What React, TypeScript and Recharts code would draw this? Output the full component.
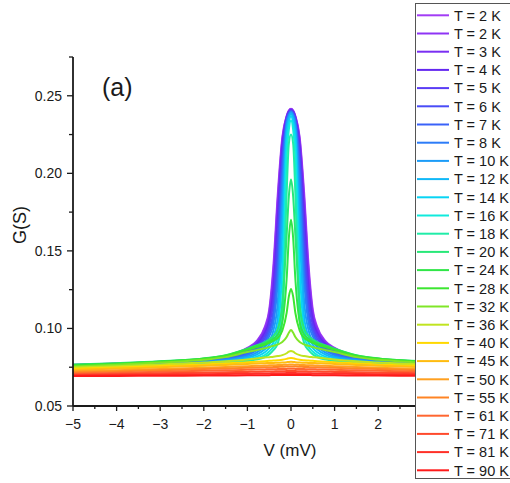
import { LineChart, Line, XAxis, YAxis } from 'recharts';

// bias voltage grid (mV), shared by every curve
const VOLTS = [-5, -4, -3, -2, -1.5, -1, -0.8, -0.6, -0.5, -0.4, -0.3, -0.2, -0.1, -0.05, 0, 0.05, 0.1, 0.2, 0.3, 0.4, 0.5, 0.6, 0.8, 1, 1.5, 2, 3, 4, 5];

// conductance G (S) per temperature
const G_2K_A = [0.0766, 0.0774, 0.0785, 0.0803, 0.0822, 0.0875, 0.0915, 0.101, 0.112, 0.142, 0.188, 0.223, 0.237, 0.2405, 0.2416, 0.2405, 0.237, 0.223, 0.188, 0.142, 0.112, 0.101, 0.0915, 0.0875, 0.0822, 0.0803, 0.0785, 0.0774, 0.0766];
const G_2K_B = [0.0765, 0.0773, 0.0784, 0.0802, 0.082, 0.0871, 0.091, 0.1, 0.11, 0.138, 0.184, 0.2213, 0.2367, 0.2402, 0.2414, 0.2402, 0.2367, 0.2213, 0.184, 0.138, 0.11, 0.1, 0.091, 0.0871, 0.082, 0.0802, 0.0784, 0.0773, 0.0765];
const G_3K = [0.0763, 0.0772, 0.0782, 0.08, 0.0818, 0.0866, 0.0902, 0.0985, 0.1074, 0.1318, 0.1774, 0.2185, 0.236, 0.2398, 0.241, 0.2398, 0.236, 0.2185, 0.1774, 0.1318, 0.1074, 0.0985, 0.0902, 0.0866, 0.0818, 0.08, 0.0782, 0.0772, 0.0763];
const G_4K = [0.0762, 0.077, 0.0781, 0.0799, 0.0815, 0.086, 0.0893, 0.0969, 0.1048, 0.1253, 0.171, 0.2155, 0.2355, 0.2395, 0.2408, 0.2395, 0.2355, 0.2155, 0.171, 0.1253, 0.1048, 0.0969, 0.0893, 0.086, 0.0815, 0.0799, 0.0781, 0.077, 0.0762];
const G_5K = [0.0762, 0.0768, 0.0779, 0.0797, 0.0812, 0.0853, 0.0886, 0.0953, 0.1022, 0.1195, 0.1636, 0.2125, 0.2348, 0.2392, 0.2405, 0.2392, 0.2348, 0.2125, 0.1636, 0.1195, 0.1022, 0.0953, 0.0886, 0.0853, 0.0812, 0.0797, 0.0779, 0.0768, 0.0762];
const G_6K = [0.0762, 0.0766, 0.0777, 0.0794, 0.0808, 0.0845, 0.0875, 0.0935, 0.0996, 0.112, 0.1535, 0.208, 0.234, 0.2388, 0.2403, 0.2388, 0.234, 0.208, 0.1535, 0.112, 0.0996, 0.0935, 0.0875, 0.0845, 0.0808, 0.0794, 0.0777, 0.0766, 0.0762];
const G_7K = [0.0762, 0.0764, 0.0774, 0.0791, 0.0803, 0.0838, 0.0867, 0.0915, 0.0973, 0.108, 0.142, 0.2013, 0.2337, 0.2382, 0.24, 0.2382, 0.2337, 0.2013, 0.142, 0.108, 0.0973, 0.0915, 0.0867, 0.0838, 0.0803, 0.0791, 0.0774, 0.0764, 0.0762];
const G_8K = [0.0762, 0.0762, 0.0771, 0.0788, 0.0801, 0.0829, 0.0857, 0.0902, 0.0949, 0.1039, 0.1321, 0.1936, 0.2327, 0.2376, 0.2397, 0.2376, 0.2327, 0.1936, 0.1321, 0.1039, 0.0949, 0.0902, 0.0857, 0.0829, 0.0801, 0.0788, 0.0771, 0.0762, 0.0762];
const G_10K = [0.0762, 0.0762, 0.0768, 0.0783, 0.0796, 0.0819, 0.0843, 0.0884, 0.0917, 0.0991, 0.1182, 0.1802, 0.2304, 0.2366, 0.2392, 0.2366, 0.2304, 0.1802, 0.1182, 0.0991, 0.0917, 0.0884, 0.0843, 0.0819, 0.0796, 0.0783, 0.0768, 0.0762, 0.0762];
const G_12K = [0.0762, 0.0762, 0.0763, 0.0779, 0.0791, 0.0811, 0.0829, 0.0866, 0.0895, 0.0949, 0.1077, 0.1618, 0.2268, 0.235, 0.2385, 0.235, 0.2268, 0.1618, 0.1077, 0.0949, 0.0895, 0.0866, 0.0829, 0.0811, 0.0791, 0.0779, 0.0763, 0.0762, 0.0762];
const G_14K = [0.0762, 0.0762, 0.0762, 0.0773, 0.0784, 0.0802, 0.0817, 0.0847, 0.0873, 0.0911, 0.1003, 0.1393, 0.2218, 0.2325, 0.237, 0.2325, 0.2218, 0.1393, 0.1003, 0.0911, 0.0873, 0.0847, 0.0817, 0.0802, 0.0784, 0.0773, 0.0762, 0.0762, 0.0762];
const G_16K = [0.0762, 0.0762, 0.0762, 0.0768, 0.0779, 0.0796, 0.0807, 0.0829, 0.0851, 0.0884, 0.0949, 0.1182, 0.2116, 0.228, 0.234, 0.228, 0.2116, 0.1182, 0.0949, 0.0884, 0.0851, 0.0829, 0.0807, 0.0796, 0.0779, 0.0768, 0.0762, 0.0762, 0.0762];
const G_18K = [0.0762, 0.0762, 0.0762, 0.0763, 0.0772, 0.0789, 0.0799, 0.0816, 0.0833, 0.0861, 0.0908, 0.1054, 0.187, 0.219, 0.225, 0.219, 0.187, 0.1054, 0.0908, 0.0861, 0.0833, 0.0816, 0.0799, 0.0789, 0.0772, 0.0763, 0.0762, 0.0762, 0.0762];
const G_20K = [0.0767, 0.0776, 0.0788, 0.0807, 0.0828, 0.087, 0.089, 0.0912, 0.0928, 0.0952, 0.1, 0.115, 0.16, 0.185, 0.196, 0.185, 0.16, 0.115, 0.1, 0.0952, 0.0928, 0.0912, 0.089, 0.087, 0.0828, 0.0807, 0.0788, 0.0776, 0.0767];
const G_24K = [0.0764, 0.0774, 0.0787, 0.0806, 0.0826, 0.0866, 0.0885, 0.0903, 0.0916, 0.0933, 0.0962, 0.104, 0.132, 0.158, 0.17, 0.158, 0.132, 0.104, 0.0962, 0.0933, 0.0916, 0.0903, 0.0885, 0.0866, 0.0826, 0.0806, 0.0787, 0.0774, 0.0764];
const G_28K = [0.0759, 0.0771, 0.0785, 0.0805, 0.0823, 0.0862, 0.0878, 0.0895, 0.0907, 0.0921, 0.094, 0.0985, 0.11, 0.1205, 0.1255, 0.1205, 0.11, 0.0985, 0.094, 0.0921, 0.0907, 0.0895, 0.0878, 0.0862, 0.0823, 0.0805, 0.0785, 0.0771, 0.0759];
const G_32K = [0.0754, 0.0766, 0.078, 0.0798, 0.0815, 0.0848, 0.086, 0.0872, 0.088, 0.0888, 0.0897, 0.0912, 0.0945, 0.0972, 0.099, 0.0972, 0.0945, 0.0912, 0.0897, 0.0888, 0.088, 0.0872, 0.086, 0.0848, 0.0815, 0.0798, 0.078, 0.0766, 0.0754];
const G_36K = [0.0748, 0.0757, 0.0768, 0.078, 0.0788, 0.08, 0.0806, 0.0812, 0.0815, 0.0818, 0.0822, 0.0828, 0.084, 0.085, 0.0855, 0.085, 0.084, 0.0828, 0.0822, 0.0818, 0.0815, 0.0812, 0.0806, 0.08, 0.0788, 0.078, 0.0768, 0.0757, 0.0748];
const G_40K = [0.074, 0.0749, 0.0758, 0.0768, 0.0775, 0.0782, 0.0786, 0.0789, 0.0791, 0.0793, 0.0795, 0.0798, 0.0804, 0.0808, 0.081, 0.0808, 0.0804, 0.0798, 0.0795, 0.0793, 0.0791, 0.0789, 0.0786, 0.0782, 0.0775, 0.0768, 0.0758, 0.0749, 0.074];
const G_45K = [0.0732, 0.0741, 0.075, 0.0759, 0.0765, 0.0771, 0.0774, 0.0776, 0.0777, 0.0778, 0.0779, 0.078, 0.0782, 0.0784, 0.0785, 0.0784, 0.0782, 0.078, 0.0779, 0.0778, 0.0777, 0.0776, 0.0774, 0.0771, 0.0765, 0.0759, 0.075, 0.0741, 0.0732];
const G_50K = [0.0724, 0.0731, 0.0739, 0.0747, 0.0752, 0.0757, 0.0759, 0.0761, 0.0762, 0.0763, 0.0764, 0.0765, 0.0766, 0.0767, 0.0768, 0.0767, 0.0766, 0.0765, 0.0764, 0.0763, 0.0762, 0.0761, 0.0759, 0.0757, 0.0752, 0.0747, 0.0739, 0.0731, 0.0724];
const G_55K = [0.0716, 0.0723, 0.0731, 0.0738, 0.0742, 0.0746, 0.0748, 0.075, 0.075, 0.0751, 0.0752, 0.0753, 0.0754, 0.0755, 0.0755, 0.0755, 0.0754, 0.0753, 0.0752, 0.0751, 0.075, 0.075, 0.0748, 0.0746, 0.0742, 0.0738, 0.0731, 0.0723, 0.0716];
const G_61K = [0.0708, 0.0714, 0.0721, 0.0727, 0.073, 0.0733, 0.0735, 0.0736, 0.0737, 0.0737, 0.0738, 0.0739, 0.0739, 0.074, 0.074, 0.074, 0.0739, 0.0739, 0.0738, 0.0737, 0.0737, 0.0736, 0.0735, 0.0733, 0.073, 0.0727, 0.0721, 0.0714, 0.0708];
const G_71K = [0.0702, 0.0706, 0.0711, 0.0715, 0.0718, 0.072, 0.0721, 0.0722, 0.0723, 0.0723, 0.0724, 0.0724, 0.0725, 0.0725, 0.0725, 0.0725, 0.0725, 0.0724, 0.0724, 0.0723, 0.0723, 0.0722, 0.0721, 0.072, 0.0718, 0.0715, 0.0711, 0.0706, 0.0702];
const G_81K = [0.0697, 0.07, 0.0702, 0.0705, 0.0707, 0.0708, 0.0709, 0.071, 0.071, 0.0711, 0.0711, 0.0711, 0.0712, 0.0712, 0.0712, 0.0712, 0.0712, 0.0711, 0.0711, 0.0711, 0.071, 0.071, 0.0709, 0.0708, 0.0707, 0.0705, 0.0702, 0.07, 0.0697];
const G_90K = [0.0693, 0.0694, 0.0695, 0.0696, 0.0697, 0.0698, 0.0699, 0.0699, 0.0699, 0.07, 0.07, 0.07, 0.07, 0.07, 0.07, 0.07, 0.07, 0.07, 0.07, 0.07, 0.0699, 0.0699, 0.0699, 0.0698, 0.0697, 0.0696, 0.0695, 0.0694, 0.0693];

const LABELS = ['T = 2 K', 'T = 2 K', 'T = 3 K', 'T = 4 K', 'T = 5 K', 'T = 6 K', 'T = 7 K', 'T = 8 K', 'T = 10 K', 'T = 12 K', 'T = 14 K', 'T = 16 K', 'T = 18 K', 'T = 20 K', 'T = 24 K', 'T = 28 K', 'T = 32 K', 'T = 36 K', 'T = 40 K', 'T = 45 K', 'T = 50 K', 'T = 55 K', 'T = 61 K', 'T = 71 K', 'T = 81 K', 'T = 90 K'];

const COLORS = [
  '#a23cf5', '#8f34f5', '#7a2ff2', '#6428f0', '#5a3cf5', '#4a4cf7', '#3a62f8', '#2c7cf8',
  '#1c9cf8', '#10b8f8', '#08d4f4', '#10eadc', '#20eca8', '#28e878', '#30e648', '#3ce630',
  '#80e628', '#c0e420', '#ffd800', '#ffbc10', '#ffa020', '#ff8424', '#ff6630', '#ff4a2c',
  '#ff3028', '#ff1a1a',
];

const CURVES = [G_2K_A, G_2K_B, G_3K, G_4K, G_5K, G_6K, G_7K, G_8K, G_10K, G_12K, G_14K, G_16K, G_18K, G_20K, G_24K, G_28K, G_32K, G_36K, G_40K, G_45K, G_50K, G_55K, G_61K, G_71K, G_81K, G_90K];

// 3, 4 and 5 sit under the legend box, so they carry no label
const X_LABELED = [-5, -4, -3, -2, -1, 0, 1, 2];
const X_MAJOR = [-5, -4, -3, -2, -1, 0, 1, 2, 3, 4, 5];
const X_TICKS = [-5, -4.5, -4, -3.5, -3, -2.5, -2, -1.5, -1, -0.5, 0, 0.5, 1, 1.5, 2, 2.5, 3, 3.5, 4, 4.5, 5];
const Y_MAJOR = [0.05, 0.1, 0.15, 0.2, 0.25];
const Y_TICKS = [0.05, 0.075, 0.1, 0.125, 0.15, 0.175, 0.2, 0.225, 0.25, 0.275];

const FONT = '"Liberation Sans", Arial, sans-serif';
const INK = '#1a1a1a';

const rows = VOLTS.map((v, i) => {
  const row: Record<string, number> = { v };
  CURVES.forEach((c, k) => {
    row['g' + k] = c[i];
  });
  return row;
});

const inList = (list: number[], v: number) => list.some((m) => Math.abs(m - v) < 1e-6);

const XTick = ({ x, y, payload }: any) => {
  const major = inList(X_MAJOR, payload.value);
  const label = payload.value < 0 ? `\u2212${Math.abs(payload.value)}` : `${payload.value}`;
  return (
    <g>
      <line x1={x} y1={y} x2={x} y2={y + (major ? 5 : 3)} stroke={INK} strokeWidth={1.3} />
      {inList(X_LABELED, payload.value) && (
        <text x={x} y={y + 23} textAnchor="middle" fontSize={14} fontFamily={FONT} fill={INK}>
          {label}
        </text>
      )}
    </g>
  );
};

const YTick = ({ x, y, payload }: any) => {
  const major = inList(Y_MAJOR, payload.value);
  return (
    <g>
      <line x1={x - (major ? 6 : 4)} y1={y} x2={x} y2={y} stroke={INK} strokeWidth={1.3} />
      {major && (
        <text x={x - 11} y={y} dy="0.36em" textAnchor="end" fontSize={14} fontFamily={FONT} fill={INK}>
          {payload.value.toFixed(2)}
        </text>
      )}
    </g>
  );
};

export default function App() {
  return (
    <div style={{ position: 'absolute', left: 0, top: 0, width: 510, height: 483, overflow: 'hidden', background: '#fff' }}>
      <LineChart width={510} height={483} data={rows} margin={{ top: 57, right: 1, left: 0, bottom: 0 }}>
        <XAxis
          type="number"
          dataKey="v"
          domain={[-5, 5]}
          ticks={X_TICKS}
          interval={0}
          tick={<XTick />}
          tickLine={false}
          tickSize={0}
          tickMargin={0}
          height={77}
          axisLine={{ stroke: INK, strokeWidth: 1.8 }}
        />
        <YAxis
          type="number"
          domain={[0.05, 0.275]}
          ticks={Y_TICKS}
          interval={0}
          tick={<YTick />}
          tickLine={false}
          tickSize={0}
          tickMargin={0}
          width={73}
          axisLine={{ stroke: INK, strokeWidth: 1.8 }}
        />
        {CURVES.map((_, k) => (
          <Line
            key={k}
            type="monotone"
            dataKey={'g' + k}
            stroke={COLORS[k]}
            strokeWidth={2}
            dot={false}
            activeDot={false}
            isAnimationActive={false}
          />
        ))}
      </LineChart>
      <svg width={510} height={483} style={{ position: 'absolute', left: 0, top: 0, pointerEvents: 'none' }}>
        <text x={102} y={96} fontSize={25} fontFamily={FONT} fill={INK}>(a)</text>
        <text x={290} y={456} textAnchor="middle" fontSize={17} fontFamily={FONT} fill={INK}>V (mV)</text>
        <text x={26} y={225} textAnchor="middle" fontSize={18} fontFamily={FONT} fill={INK} transform="rotate(-90, 26, 225)">
          G(S)
        </text>
        <rect x={415.5} y={3.5} width={200} height={475} fill="#fff" stroke="#555" strokeWidth={1} />
        {LABELS.map((label, i) => {
          const cy = 15.3 + i * 18.2;
          return (
            <g key={i}>
              <line x1={417} y1={cy} x2={449} y2={cy} stroke={COLORS[i]} strokeWidth={2} />
              <text x={454} y={cy + 5.2} fontSize={14.5} fontFamily={FONT} fill={INK}>{label}</text>
            </g>
          );
        })}
      </svg>
    </div>
  );
}
